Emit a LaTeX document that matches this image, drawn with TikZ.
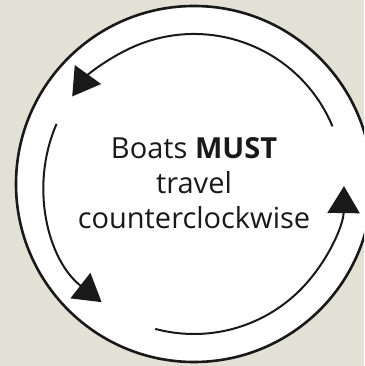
\documentclass[tikz,border=0pt]{standalone}
\usepackage{fontspec}
\setmainfont{Open Sans}
\usetikzlibrary{arrows.meta}
\definecolor{bgbeige}{RGB}{227,224,213}
\tikzset{
  ring/.style={draw=black!90, line width=2.6pt, fill=white},
  flow/.style={draw=black!90, line width=2pt, -{Triangle[length=27pt,width=32pt]}},
  msg/.style={align=center, font=\fontsize{29}{35}\selectfont, text=black!90, inner sep=0pt}
}
\begin{document}
\begin{tikzpicture}[x=1pt,y=1pt]
\fill[bgbeige] (0,0) rectangle (364,366);
\useasboundingbox (0,0) rectangle (364,366);
\coordinate (C) at (194,182);
\begin{scope}
  \clip (0,0) rectangle (364,366);
  \path[ring] (C) circle[radius=178];
\end{scope}
\draw[flow] (C) ++(22.6:150) arc[start angle=22.6, end angle=144.3, radius=150];
\draw[flow] (C) ++(156.4:150) arc[start angle=156.4, end angle=232, radius=150];
\draw[flow] (C) ++(255:150) arc[start angle=255, end angle=359.2, radius=150];
\node[msg] (t) at (194,183) {Boats \textbf{MUST}\\travel\\counterclockwise};
\end{tikzpicture}
\end{document}
